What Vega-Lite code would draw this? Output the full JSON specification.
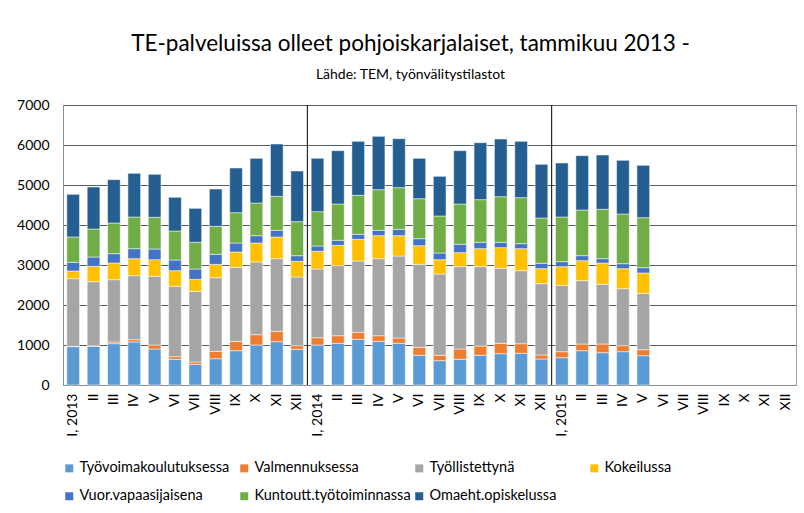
{
 "$schema": "https://vega.github.io/schema/vega-lite/v6.json",
 "width": 733,
 "height": 280,
 "autosize": {"type": "none"},
 "padding": {"left": 63, "top": 105, "right": 8, "bottom": 128},
 "background": "white",
 "title": {
  "text": "TE-palveluissa olleet pohjoiskarjalaiset, tammikuu 2013 -",
  "subtitle": "Lähde: TEM, työnvälitystilastot",
  "font": "Lato", "fontSize": 22.5, "fontWeight": "normal", "color": "black",
  "subtitleFont": "Lato", "subtitleFontSize": 14, "subtitleColor": "black",
  "anchor": "middle", "frame": "group", "dx": -19, "offset": 16, "subtitlePadding": 13
 },
 "config": {"view": {"stroke": "#9aa3b0"}},
 "datasets": {
  "months": [
   {"k":"I, 2013","a":958,"b":10,"c":1690,"d":192,"e":217,"f":633,"g":1067},
   {"k":"II|2013","a":967,"b":15,"c":1601,"d":384,"e":233,"f":700,"g":1050},
   {"k":"III|2013","a":1033,"b":42,"c":1558,"d":417,"e":233,"f":767,"g":1083},
   {"k":"IV|2013","a":1075,"b":58,"c":1600,"d":425,"e":250,"f":792,"g":1092},
   {"k":"V|2013","a":900,"b":100,"c":1717,"d":416,"e":267,"f":792,"g":1075},
   {"k":"VI|2013","a":642,"b":66,"c":1759,"d":391,"e":267,"f":725,"g":842},
   {"k":"VII|2013","a":517,"b":58,"c":1767,"d":300,"e":258,"f":667,"g":850},
   {"k":"VIII|2013","a":658,"b":184,"c":1841,"d":334,"e":250,"f":700,"g":933},
   {"k":"IX|2013","a":858,"b":234,"c":1850,"d":383,"e":225,"f":758,"g":1117},
   {"k":"X|2013","a":1000,"b":258,"c":1817,"d":475,"e":183,"f":817,"g":1117},
   {"k":"XI|2013","a":1083,"b":259,"c":1816,"d":542,"e":167,"f":850,"g":1308},
   {"k":"XII|2013","a":892,"b":91,"c":1717,"d":392,"e":141,"f":850,"g":1267},
   {"k":"I, 2014","a":1000,"b":183,"c":1717,"d":442,"e":133,"f":858,"g":1334},
   {"k":"II|2014","a":1042,"b":191,"c":1750,"d":509,"e":125,"f":908,"g":1333},
   {"k":"III|2014","a":1142,"b":175,"c":1783,"d":542,"e":125,"f":975,"g":1350},
   {"k":"IV|2014","a":1092,"b":141,"c":1925,"d":575,"e":134,"f":1016,"g":1334},
   {"k":"V|2014","a":1042,"b":133,"c":2050,"d":508,"e":159,"f":1041,"g":1225},
   {"k":"VI|2014","a":742,"b":200,"c":2075,"d":466,"e":175,"f":1000,"g":1009},
   {"k":"VII|2014","a":608,"b":134,"c":2033,"d":358,"e":167,"f":925,"g":992},
   {"k":"VIII|2014","a":642,"b":258,"c":2058,"d":350,"e":209,"f":1008,"g":1333},
   {"k":"IX|2014","a":742,"b":233,"c":1983,"d":450,"e":159,"f":1066,"g":1425},
   {"k":"X|2014","a":783,"b":259,"c":1875,"d":516,"e":134,"f":1141,"g":1442},
   {"k":"XI|2014","a":792,"b":241,"c":1825,"d":550,"e":125,"f":1150,"g":1409},
   {"k":"XII|2014","a":650,"b":100,"c":1783,"d":375,"e":134,"f":1133,"g":1342},
   {"k":"I, 2015","a":683,"b":150,"c":1659,"d":466,"e":125,"f":1117,"g":1350},
   {"k":"II|2015","a":858,"b":167,"c":1583,"d":500,"e":125,"f":1142,"g":1358},
   {"k":"III|2015","a":808,"b":217,"c":1492,"d":533,"e":108,"f":1234,"g":1358},
   {"k":"IV|2015","a":833,"b":150,"c":1425,"d":500,"e":125,"f":1242,"g":1342},
   {"k":"V|2015","a":733,"b":150,"c":1409,"d":508,"e":133,"f":1250,"g":1309}
  ],
  "series": [
   {"s":"a","n":"Työvoimakoulutuksessa","o":1},
   {"s":"b","n":"Valmennuksessa","o":2},
   {"s":"c","n":"Työllistettynä","o":3},
   {"s":"d","n":"Kokeilussa","o":4},
   {"s":"e","n":"Vuor.vapaasijaisena","o":5},
   {"s":"f","n":"Kuntoutt.työtoiminnassa","o":6},
   {"s":"g","n":"Omaeht.opiskelussa","o":7}
  ]
 },
 "layer": [
  {
   "data": {"name": "months"},
   "transform": [
    {"fold": ["a","b","c","d","e","f","g"], "as": ["s","v"]},
    {"lookup": "s", "from": {"data": {"name": "series"}, "key": "s", "fields": ["n","o"]}}
   ],
   "mark": {"type": "bar", "stroke": "white", "strokeWidth": 0.5},
   "encoding": {
    "x": {
     "field": "k", "type": "nominal",
     "scale": {
      "domain": ["I, 2013","II|2013","III|2013","IV|2013","V|2013","VI|2013","VII|2013","VIII|2013","IX|2013","X|2013","XI|2013","XII|2013",
                 "I, 2014","II|2014","III|2014","IV|2014","V|2014","VI|2014","VII|2014","VIII|2014","IX|2014","X|2014","XI|2014","XII|2014",
                 "I, 2015","II|2015","III|2015","IV|2015","V|2015","VI|2015","VII|2015","VIII|2015","IX|2015","X|2015","XI|2015","XII|2015"],
      "paddingInner": 0.376, "paddingOuter": 0.188
     },
     "axis": {
      "title": null, "labelAngle": -90, "labelExpr": "split(datum.value, '|')[0]",
      "ticks": false, "domainColor": "#868e99", "labelFont": "Lato", "labelFontSize": 14,
      "labelColor": "black", "labelPadding": 8, "grid": false
     }
    },
    "y": {
     "field": "v", "type": "quantitative", "stack": "zero",
     "scale": {"domain": [0, 7000]},
     "axis": {
      "title": null, "values": [0,1000,2000,3000,4000,5000,6000,7000], "format": "d",
      "grid": true, "gridColor": "#555c68", "domainColor": "#868e99", "ticks": false,
      "labelFont": "Lato", "labelFontSize": 14, "labelPadding": 14, "labelColor": "black"
     }
    },
    "color": {
     "field": "n", "type": "nominal",
     "scale": {
      "domain": ["Työvoimakoulutuksessa","Valmennuksessa","Työllistettynä","Kokeilussa","Vuor.vapaasijaisena","Kuntoutt.työtoiminnassa","Omaeht.opiskelussa"],
      "range": ["#5B9BD5","#ED7D31","#A5A5A5","#FFC000","#4472C4","#70AD47","#255E91"]
     },
     "legend": {
      "title": null, "orient": "none", "legendX": -1, "legendY": 356,
      "direction": "horizontal", "columns": 4, "symbolType": "square", "symbolSize": 64,
      "symbolStrokeWidth": 0, "labelFont": "Lato", "labelFontSize": 14.5, "labelColor": "black",
      "labelOffset": 3, "columnPadding": 1, "rowPadding": 13, "gridAlign": "all", "labelLimit": 300
     }
    },
    "order": {"field": "o", "type": "quantitative"}
   }
  },
  {
   "data": {"values": [{"k": "I, 2014"}, {"k": "I, 2015"}]},
   "mark": {"type": "rule", "color": "black", "strokeWidth": 1},
   "encoding": {"x": {"field": "k", "type": "nominal", "bandPosition": -0.3}}
  }
 ]
}
